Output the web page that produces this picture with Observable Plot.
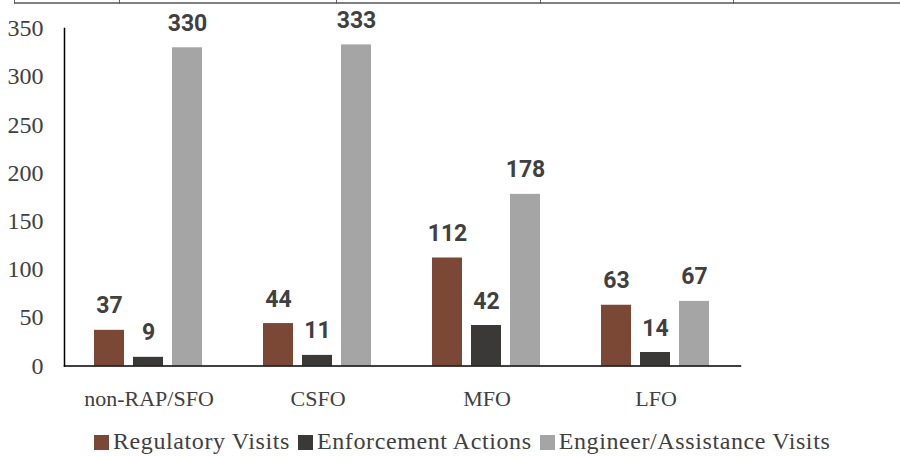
<!DOCTYPE html>
<html><head><meta charset="utf-8">
<script src="https://cdn.jsdelivr.net/npm/d3@7"></script>
<script src="https://cdn.jsdelivr.net/npm/@observablehq/plot@0.6"></script>
<style>
html,body{margin:0;padding:0;background:#fff;}
body{width:900px;height:456px;overflow:hidden;position:relative;}
#chart{position:absolute;left:0;top:0;}
#topline{position:absolute;left:14px;top:2px;width:886px;height:2px;background:#808080;}
.tick{position:absolute;top:0;width:1px;height:4px;background:#606060;}
#legend{position:absolute;left:94px;top:429px;display:flex;align-items:center;font-family:"Liberation Serif",serif;font-size:24px;letter-spacing:0.6px;color:#404040;line-height:24px;white-space:nowrap;}
.item{display:flex;align-items:center;margin-right:8px;}
.sw{width:15px;height:15px;margin-right:4px;margin-top:3px;}
</style></head><body>
<div id="topline"></div>
<div id="chart"></div>
<div id="legend"></div>
<script>
const categories = ["non-RAP/SFO", "CSFO", "MFO", "LFO"];
const series = ["Regulatory Visits", "Enforcement Actions", "Engineer/Assistance Visits"];
const regulatory = [37, 44, 112, 63];
const enforcement = [9, 11, 42, 14];
const engineer = [330, 333, 178, 67];
const yTicks = [0, 50, 100, 150, 200, 250, 300, 350];
const colors = ["#7a4835", "#3b3838", "#a5a5a5"];
const tableTicks = [14, 119, 336, 540, 733];

for (const x of tableTicks) {
  const t = document.createElement("div");
  t.className = "tick"; t.style.left = x + "px";
  document.body.appendChild(t);
}

const values = [regulatory, enforcement, engineer];
const data = categories.flatMap((c, i) => series.map((s, j) => ({category: c, series: s, value: values[j][i]})));

const plot = Plot.plot({
  width: 900, height: 420,
  marginLeft: 63, marginRight: 0, marginTop: 28, marginBottom: 54.5,
  style: {fontFamily: "'Liberation Serif', serif", fontSize: "22px", color: "#404040", background: "transparent"},
  fx: {domain: categories, range: [63.5, 739.5], paddingInner: 0, paddingOuter: 0, label: null},
  x: {domain: series, paddingInner: 0.23, paddingOuter: 0.78, axis: null},
  y: {domain: [0, 350], label: null},
  color: {domain: series, range: colors},
  marks: [
    Plot.axisY(yTicks, {tickSize: 0, tickPadding: 21, fontSize: 24, label: null}),
    Plot.axisFx({anchor: "bottom", tickSize: 0, tickPadding: 24, fontSize: 22, label: null}),
    Plot.barY(data, {fx: "category", x: "series", y: "value", fill: "series"}),
    Plot.text(data, {fx: "category", x: "series", y: "value", text: d => String(d.value), dy: -17, lineAnchor: "bottom",
      fontFamily: "'Liberation Sans Narrow', 'Roboto', sans-serif", fontWeight: "bold", fontSize: 23, fill: "#404040"}),
    Plot.frame({anchor: "bottom", facet: "super", stroke: "#000", strokeWidth: 1.5}),
    Plot.frame({anchor: "left", facet: "super", stroke: "#000", strokeWidth: 1.5})
  ]
});
document.getElementById("chart").appendChild(plot);

const legend = document.getElementById("legend");
series.forEach((s, i) => {
  const it = document.createElement("div"); it.className = "item";
  const sw = document.createElement("div"); sw.className = "sw"; sw.style.background = colors[i];
  const tx = document.createElement("span"); tx.textContent = s;
  it.appendChild(sw); it.appendChild(tx); legend.appendChild(it);
});
</script>
</body></html>
